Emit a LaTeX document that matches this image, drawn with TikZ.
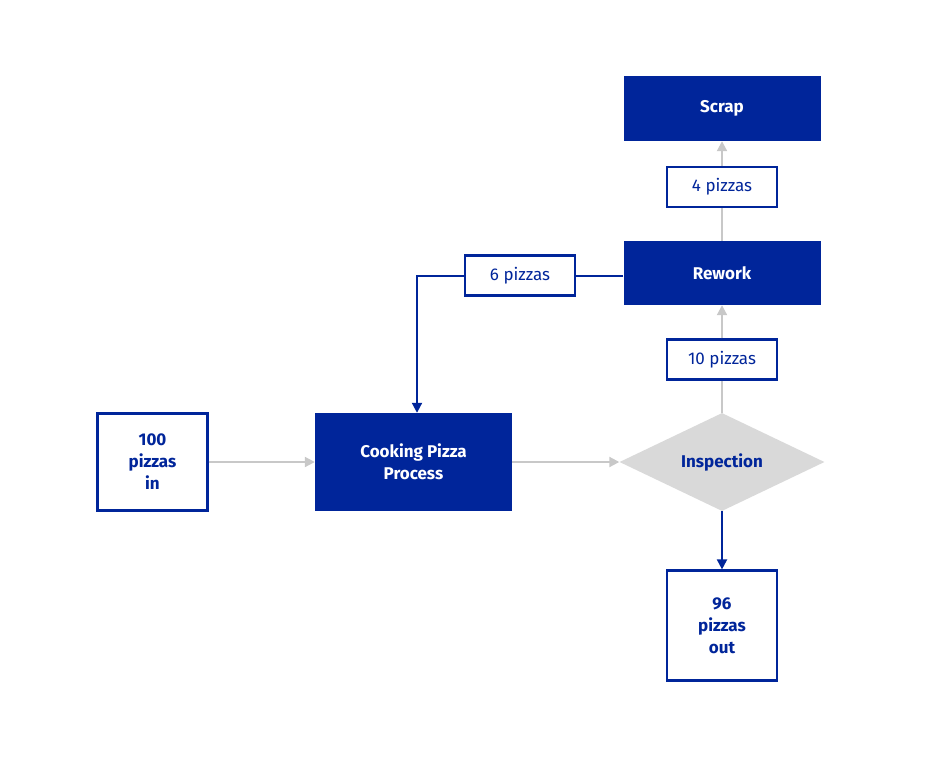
\documentclass[tikz,border=0pt]{standalone}
\usepackage{fontspec}
\setmainfont{Fira Sans}
\usetikzlibrary{shapes.geometric,arrows.meta}
\definecolor{dblue}{RGB}{0,37,154}
\definecolor{lgray}{RGB}{200,200,200}
\definecolor{dgray}{RGB}{217,217,217}
\begin{document}
\begin{tikzpicture}[x=1pt,y=-1pt,
  solidbox/.style={draw=none,fill=dblue,text=white,font=\fontsize{17}{22}\selectfont\bfseries,align=center,inner sep=0pt},
  labbox/.style={draw=dblue,line width=2.2pt,fill=white,text=dblue,font=\fontsize{17}{22}\selectfont,inner sep=0pt,minimum width=110pt,minimum height=40pt},
  endbox/.style={draw=dblue,line width=2.2pt,fill=white,text=dblue,font=\fontsize{17}{22}\selectfont\bfseries,align=center,inner sep=0pt,minimum width=110pt},
  decision/.style={diamond,fill=dgray,draw=none,text=dblue,font=\fontsize{17}{22}\selectfont\bfseries,inner sep=0pt,minimum width=205pt,minimum height=98pt,aspect=2.09},
  grayline/.style={draw=lgray,line width=2pt},
  grayarrow/.style={grayline,-{Triangle[length=10pt,width=10pt]}},
  bluearrow/.style={draw=dblue,line width=2pt,-{Triangle[length=10pt,width=10pt]}},
  blueline/.style={draw=dblue,line width=2pt}
]
\useasboundingbox (0,0) rectangle (944,758);
\node[solidbox,minimum width=197pt,minimum height=65pt] (scrap) at (722,108.5) {Scrap};
\node[solidbox,minimum width=197pt,minimum height=64pt] (rework) at (722,273) {Rework};
\node[solidbox,minimum width=197pt,minimum height=98pt] (cook) at (413.5,462) {Cooking Pizza\\Process};
\node[decision] (insp) at (722,462) {Inspection};
\node[endbox,minimum height=97pt] (in) at (152.5,462) {100\\pizzas\\in};
\node[endbox,minimum height=110pt] (out) at (722,625.5) {96\\pizzas\\out};
\node[labbox] (four) at (722,187) {4 pizzas};
\node[labbox] (six) at (520,275.5) {6 pizzas};
\node[labbox] (ten) at (722,359.5) {10 pizzas};
\coordinate (bend) at (417,275.5);
% connectors
\draw[grayarrow] (in.east) -- (cook.west);
\draw[grayarrow] (cook.east) -- (insp.west);
\draw[bluearrow] (insp.south) -- (out.north);
\draw[grayline] (insp.north) -- (ten.south);
\draw[grayarrow] (ten.north) -- (rework.south);
\draw[grayline] (rework.north) -- (four.south);
\draw[grayarrow] (four.north) -- (scrap.south);
\draw[blueline] (rework.west |- six.east) -- (six.east);
\draw[bluearrow] (six.west) -- (bend) -- (bend |- cook.north);
\end{tikzpicture}
\end{document}
